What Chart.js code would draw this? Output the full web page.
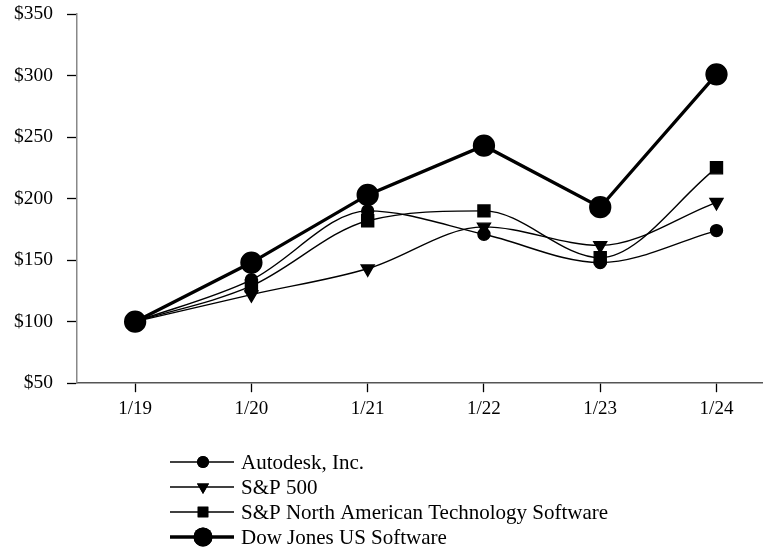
<!DOCTYPE html>
<html>
<head>
<meta charset="utf-8">
<script src="https://cdn.jsdelivr.net/npm/chart.js@4"></script>
<style>
html,body{margin:0;padding:0;background:#fff;}
#wrap{width:763px;height:551px;position:relative;}
</style>
</head>
<body>
<div id="wrap"><canvas id="c" width="763" height="551"></canvas></div>
<script>
const categories = ['1/19','1/20','1/21','1/22','1/23','1/24'];
const autodesk = [100, 134, 190, 171, 148, 174];
const sp500 = [100, 122, 143, 177, 162, 197];
const spNATech = [100, 129, 182, 190, 152, 225];
const dowJones = [100, 148, 203, 243, 193, 301];
const yTicks = [50, 100, 150, 200, 250, 300, 350];

const FONT = '"Liberation Serif", "Times New Roman", serif';

function pts(arr){ return arr.map((v,i)=>({x:i,y:v})); }

const datasets = [
  {label:'Autodesk, Inc.', data:pts(autodesk), borderColor:'#000', backgroundColor:'#000', borderWidth:1.4, cubicInterpolationMode:'monotone', pointStyle:'circle', pointRadius:6, lw:1.4},
  {label:'S&P 500', data:pts(sp500), borderColor:'#000', backgroundColor:'#000', borderWidth:1.4, cubicInterpolationMode:'monotone', pointStyle:'triangle', rotation:180, pointRadius:7.5, lw:1.4},
  {label:'S&P North American Technology Software', data:pts(spNATech), borderColor:'#000', backgroundColor:'#000', borderWidth:1.4, cubicInterpolationMode:'monotone', pointStyle:'rect', pointRadius:8.5, lw:1.4},
  {label:'Dow Jones US Software', data:pts(dowJones), borderColor:'#000', backgroundColor:'#000', borderWidth:3.3, tension:0, pointStyle:'circle', pointRadius:9.5, lw:3.3}
];

const legendPlugin = {
  id:'customLegend',
  afterDraw(chart){
    const ctx = chart.ctx;
    const x0 = 170, x1 = 234, xm = 203, tx = 241;
    const y0 = 462, dy = 25;
    ctx.save();
    chart.data.datasets.forEach((ds,i)=>{
      const y = y0 + i*dy;
      ctx.strokeStyle = '#000';
      ctx.lineWidth = ds.lw;
      ctx.beginPath(); ctx.moveTo(x0,y); ctx.lineTo(x1,y); ctx.stroke();
      ctx.fillStyle = '#000';
      const r = ds.pointStyle === 'rect' ? 7.5 : (ds.pointStyle === 'triangle' ? 7 : ds.pointRadius);
      Chart.helpers.drawPoint(ctx, {pointStyle: ds.pointStyle, radius: r, rotation: ds.rotation||0, borderWidth:0}, xm, y);
      ctx.fill();
      ctx.font = '21px ' + FONT;
      ctx.textBaseline = 'middle';
      ctx.textAlign = 'left';
      ctx.fillText(ds.label, tx, y+1);
    });
    ctx.restore();
  }
};

new Chart(document.getElementById('c'), {
  type:'line',
  data:{datasets},
  options:{
    responsive:false,
    animation:false,
    layout:{autoPadding:false, padding:{top:14,right:0,bottom:126,left:0}},
    plugins:{legend:{display:false}, tooltip:{enabled:false}},
    scales:{
      x:{
        type:'linear', min:-0.5, max:5.4,
        afterBuildTicks(scale){ scale.ticks = categories.map((c,i)=>({value:i})); },
        afterFit(scale){ scale.paddingLeft = 0; scale.paddingRight = 0; },
        ticks:{callback:(v)=>categories[v], color:'#000', font:{family:FONT,size:19}, padding:5, maxRotation:0, autoSkip:false},
        grid:{drawOnChartArea:false, color:'#000', tickLength:9, tickWidth:1.3},
        border:{color:'#555', width:1.5}
      },
      y:{
        min:50, max:350,
        afterBuildTicks(scale){ scale.ticks = yTicks.map(v=>({value:v})); },
        ticks:{callback:(v)=>'$'+v, color:'#000', font:{family:FONT,size:19.5}, padding:14},
        grid:{drawOnChartArea:false, color:'#000', tickLength:10, tickWidth:1.3},
        border:{color:'#888', width:1.5},
        afterFit(scale){ scale.width = 77; scale.paddingTop = 0; scale.paddingBottom = 0; }
      }
    }
  },
  plugins:[legendPlugin]
});
</script>
</body>
</html>
